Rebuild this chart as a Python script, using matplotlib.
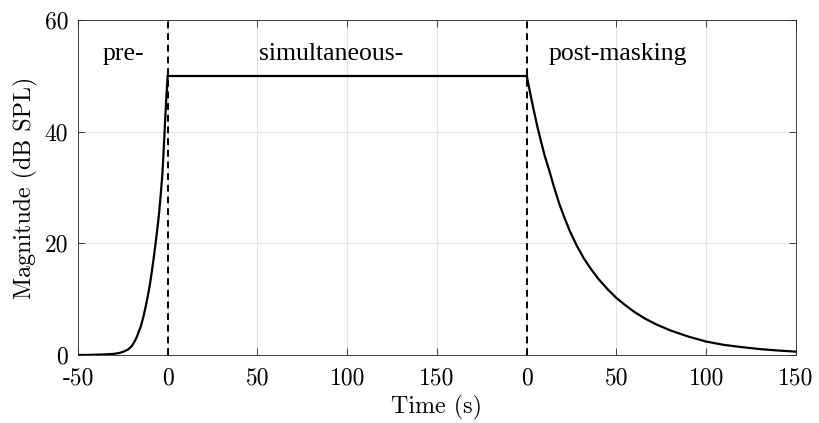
import matplotlib
matplotlib.use("Agg")
import matplotlib.pyplot as plt
import numpy as np

plt.rcParams['font.family'] = ['cmr10', 'DejaVu Serif']
plt.rcParams['axes.formatter.use_mathtext'] = True

# pre-masking curve (time in s before masker onset, level in dB SPL)
pre_t = [-50, -45, -40, -35, -30, -27, -25, -22, -20, -18, -17, -16, -15, -14, -13,
         -12, -11, -10, -9, -8, -7, -6, -5, -4, -3, -2.5, -2, -1.5, -1, -0.5, 0]
pre_db = [0, 0, 0.05, 0.1, 0.2, 0.35, 0.55, 1.0, 1.6, 2.7, 3.4, 4.3, 5.1, 6.3, 7.6,
          9.1, 10.7, 12.5, 14.6, 16.9, 19.4, 22.0, 24.8, 28.3, 32.3, 35.2, 38.3, 41.6, 44.8, 47.6, 50]

# simultaneous masking
sim_t = [0, 200]
sim_db = [50, 50]

# post-masking curve (time in s after masker offset)
post_t = [0, 2, 4, 6, 8, 10, 12.5, 15, 18, 21, 24, 28, 32, 36, 40, 45, 50, 55, 60,
          66, 72, 80, 90, 100, 110, 120, 130, 140, 150]
post_db = [50, 46.8, 43.7, 40.8, 38.2, 35.7, 33.1, 30.3, 27.2, 24.6, 22.2, 19.5, 17.2,
           15.3, 13.6, 11.8, 10.2, 8.9, 7.7, 6.5, 5.5, 4.4, 3.3, 2.4, 1.8, 1.4, 1.05,
           0.8, 0.6]

masker_len = 200
tick_pos = [-50, 0, 50, 100, 150, 200, 250, 300, 350]
tick_lab = ['-50', '0', '50', '100', '150', '0', '50', '100', '150']
labels = ['pre-', 'simultaneous-', 'post-masking']
label_x = [-36, 51, 212]

fig = plt.figure(figsize=(8.19, 4.23), dpi=100)
ax = fig.add_axes([0.0952, 0.1608, 0.8767, 0.7919])

ax.plot(pre_t, pre_db, color='k', lw=1.6)
ax.plot(sim_t, sim_db, color='k', lw=1.6)
ax.plot(np.array(post_t) + masker_len, post_db, color='k', lw=1.6)

ax.axvline(0, color='k', ls=(0, (3.5, 2.5)), lw=1.4)
ax.axvline(masker_len, color='k', ls=(0, (3.5, 2.5)), lw=1.4)

for s, x in zip(labels, label_x):
    ax.text(x, 54, s, ha='left', va='center', fontsize=18.5,
            family=['Liberation Serif', 'DejaVu Serif'])

ax.set_xlim(-50, 350)
ax.set_ylim(0, 60)
ax.set_xticks(tick_pos)
ax.set_xticklabels(tick_lab)
ax.set_yticks([0, 20, 40, 60])
ax.set_yticklabels(['0', '20', '40', '60'])
ax.grid(True, color='#e3e3e3', lw=0.8)
ax.set_axisbelow(True)

ax.tick_params(direction='in', top=True, right=True, length=5, width=0.6,
               color='#262626', labelsize=17, pad=7)
ax.tick_params(axis='x', pad=9)
for sp in ax.spines.values():
    sp.set_color('#262626')
    sp.set_linewidth(0.6)

ax.set_xlabel('Time (s)', fontsize=17.3, labelpad=4)
ax.set_ylabel('Magnitude (dB SPL)', fontsize=17.3, labelpad=5)

fig.savefig('out.png', dpi=100)
